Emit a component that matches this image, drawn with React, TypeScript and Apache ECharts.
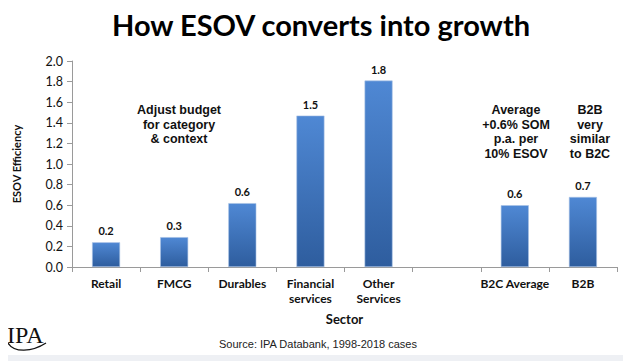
import React, { useEffect, useRef } from "react";
import * as echarts from "echarts";

const categories = ["Retail", "FMCG", "Durables", "Financial\nservices", "Other\nServices", "", "B2C Average", "B2B"];
const values: (number | null)[] = [0.24, 0.29, 0.62, 1.47, 1.81, null, 0.6, 0.68];
const yTicks = [0, 2, 0.2];
const titleText = "How ESOV converts into growth";
const note1 = ["Adjust budget", "for category", "& context"];
const note2 = ["Average", "+0.6% SOM", "p.a. per", "10% ESOV"];
const note3 = ["B2B", "very", "similar", "to B2C"];
const sourceText = "Source: IPA Databank, 1998-2018 cases";

export default function App() {
  const ref = useRef<HTMLDivElement>(null);
  useEffect(() => {
    if (!ref.current) return;
    const chart = echarts.init(ref.current, null, { renderer: "svg" });
    const noteStyle = (lines: string[], x: number, y: number) => ({
      type: "text",
      x,
      y,
      style: {
        text: lines.join("\n"),
        font: "bold 12.5px 'Liberation Sans', Arial, sans-serif",
        fill: "#111",
        align: "center",
        verticalAlign: "top",
        lineHeight: 14.5,
      },
    });
    chart.setOption({
      animation: false,
      backgroundColor: "#ffffff",
      grid: { left: 72, right: 14, top: 61, bottom: 94, containLabel: false },
      xAxis: {
        type: "category",
        data: categories,
        boundaryGap: true,
        axisLine: { lineStyle: { color: "#9a9a9a", width: 1 } },
        axisTick: { show: true, alignWithLabel: false, length: 5, lineStyle: { color: "#9a9a9a" } },
        axisLabel: {
          interval: 0,
          color: "#111",
          fontFamily: "Lato, sans-serif",
          fontWeight: "bold",
          fontSize: 12,
          lineHeight: 15,
          margin: 9,
        },
        name: "Sector",
        nameLocation: "middle",
        nameGap: 45,
        nameTextStyle: { color: "#111", fontFamily: "Lato, sans-serif", fontWeight: "bold", fontSize: 13 },
      },
      yAxis: {
        type: "value",
        min: yTicks[0],
        max: yTicks[1],
        interval: yTicks[2],
        splitLine: { show: false },
        axisLine: { show: true, lineStyle: { color: "#9a9a9a", width: 1 } },
        axisTick: { show: true, length: 5, lineStyle: { color: "#9a9a9a" } },
        axisLabel: {
          color: "#111",
          fontFamily: "Lato, sans-serif",
          fontSize: 12.5,
          margin: 9,
          formatter: (v: number) => v.toFixed(1),
        },
        name: "ESOV Efficiency",
        nameLocation: "middle",
        nameGap: 50,
        nameRotate: 90,
        nameTextStyle: { color: "#111", fontFamily: "Lato, sans-serif", fontWeight: "bold", fontSize: 11 },
      },
      series: [
        {
          type: "bar",
          data: values,
          barWidth: 28,
          itemStyle: {
            color: new echarts.graphic.LinearGradient(0, 0, 0, 1, [
              { offset: 0, color: "#4f88d4" },
              { offset: 1, color: "#2e5d9e" },
            ]),
            borderColor: "#a9c2e6",
            borderWidth: 0.6,
          },
          label: {
            show: true,
            position: "top",
            distance: 6,
            color: "#111",
            fontFamily: "Lato, sans-serif",
            fontWeight: "bold",
            fontSize: 11,
            formatter: (p: any) => (p.value == null ? "" : Number(p.value).toFixed(1)),
          },
        },
      ],
      graphic: [
        {
          type: "text",
          x: 321,
          y: 24,
          style: {
            text: titleText,
            font: "bold 29px Lato, sans-serif",
            fill: "#000",
            align: "center",
            verticalAlign: "middle",
          },
        },
        noteStyle(note1, 179, 103),
        noteStyle(note2, 516, 103),
        noteStyle(note3, 590, 103),
        {
          type: "text",
          x: 318,
          y: 344,
          style: {
            text: sourceText,
            font: "11px 'Liberation Sans', Arial, sans-serif",
            fill: "#222",
            align: "center",
            verticalAlign: "middle",
          },
        },
        {
          type: "rect",
          shape: { x: 0, y: 355, width: 631, height: 6 },
          style: { fill: "#eef0f4" },
        },
        {
          type: "text",
          x: 7,
          y: 335,
          style: {
            text: "IPA",
            font: "24px 'Liberation Serif', 'DejaVu Serif', serif",
            fill: "#111",
            align: "left",
            verticalAlign: "middle",
          },
        },
        {
          type: "bezierCurve",
          shape: { x1: 8, y1: 343, cpx1: 14, cpy1: 353, cpx2: 32, cpy2: 352, x2: 46, y2: 343 },
          style: { stroke: "#111", lineWidth: 1.3, fill: "none" },
        },
      ],
    });
    return () => chart.dispose();
  }, []);
  return <div ref={ref} style={{ width: 631, height: 361, marginLeft: -8, marginTop: -8 }} />;
}
